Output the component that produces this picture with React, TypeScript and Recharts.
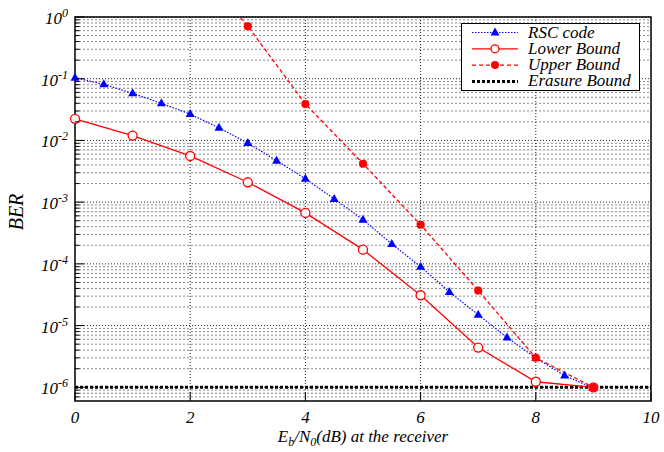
import React from "react";
import { LineChart, Line, XAxis, YAxis, CartesianGrid, ReferenceArea, Legend } from "recharts";

// Eb/N0 in dB
const rscSnr = [0, 0.5, 1, 1.5, 2, 2.5, 3, 3.5, 4, 4.5, 5, 5.5, 6, 6.5, 7, 7.5, 8, 8.5, 9];
const rscBer = [
  0.104, 0.081, 0.058, 0.04, 0.0267, 0.016, 0.0091, 0.0047, 0.0024, 0.00113, 5.2e-4, 2.1e-4, 9e-5,
  3.5e-5, 1.5e-5, 6.4e-6, 3.0e-6, 1.55e-6, 9.7e-7,
];

const lowerSnr = [0, 1, 2, 3, 4, 5, 6, 7, 8, 9];
const lowerBer = [0.0224, 0.012, 0.0056, 0.0021, 6.7e-4, 1.7e-4, 3.1e-5, 4.4e-6, 1.23e-6, 1.0e-6];

const upperSnr = [2, 3, 4, 5, 6, 7, 8, 9];
const upperBer = [9, 0.71, 0.039, 0.0042, 4.3e-4, 3.7e-5, 3.0e-6, 1.0e-6];

const erasureSnr = [0, 10];
const erasureBer = [1e-6, 1e-6];

const xTicks = [0, 2, 4, 6, 8, 10];
const xGrid = [2, 4, 6, 8];
const yMajor = [1e-6, 1e-5, 1e-4, 1e-3, 1e-2, 1e-1, 1];
const decades = [1e-7, 1e-6, 1e-5, 1e-4, 1e-3, 1e-2, 1e-1];
const mantissas = [2, 3, 4, 5, 6, 7, 8, 9];
const Y_MIN = 6e-7;
const Y_MAX = 1;

const yMinor = decades
  .flatMap((d) => mantissas.map((m) => m * d))
  .filter((v) => v > Y_MIN * 1.0001 && v < Y_MAX);
const yAll = [...yMajor, ...yMinor];

const toPoints = (xs: number[], ys: number[]) => xs.map((x, i) => ({ snr: x, ber: ys[i] }));

const SERIF: React.CSSProperties = {
  fontFamily: "'Liberation Serif', 'Times New Roman', Times, 'DejaVu Serif', serif",
  fontStyle: "italic",
};
const BLUE = "#0000ff";
const RED = "#ff0000";

function isMajor(v: number) {
  return yMajor.some((m) => Math.abs(m - v) / m < 1e-6);
}

function LeftTick(props: any) {
  const { x, y, payload } = props;
  const v = payload.value;
  const major = isMajor(v);
  const exp = Math.round(Math.log10(v));
  return (
    <g>
      <line x1={x} x2={x + (major ? 9 : 4.5)} y1={y} y2={y} stroke="#000" />
      {major && (
        <text x={x - 7} y={y + 7} textAnchor="end" style={{ ...SERIF, fontSize: 17 }} fill="#000">
          10
          <tspan dy={-7} style={{ fontSize: 12 }}>
            {exp === 0 ? "0" : `-${Math.abs(exp)}`}
          </tspan>
        </text>
      )}
    </g>
  );
}

function RightTick(props: any) {
  const { x, y, payload } = props;
  const major = isMajor(payload.value);
  return <line x1={x} x2={x - (major ? 9 : 4.5)} y1={y} y2={y} stroke="#000" />;
}

function BottomTick(props: any) {
  const { x, y, payload } = props;
  return (
    <g>
      <line x1={x} x2={x} y1={y} y2={y - 9} stroke="#000" />
      <text x={x} y={y + 22} textAnchor="middle" style={{ ...SERIF, fontSize: 17 }} fill="#000">
        {payload.value}
      </text>
    </g>
  );
}

function TopTick(props: any) {
  const { x, y } = props;
  return <line x1={x} x2={x} y1={y} y2={y + 9} stroke="#000" />;
}

function triangleDot(p: any) {
  const { cx, cy, index } = p;
  if (cx == null || cy == null) return <g key={`t-${index}`} />;
  return (
    <path
      key={`t-${index}`}
      d={`M${cx},${cy - 5} L${cx + 4.5},${cy + 3} L${cx - 4.5},${cy + 3} Z`}
      fill={BLUE}
    />
  );
}

function LegendBox() {
  const rows = [
    { name: "RSC code", color: BLUE, dash: "1.5 1.5", width: 1.2, marker: "tri" },
    { name: "Lower Bound", color: RED, dash: undefined, width: 1.3, marker: "open" },
    { name: "Upper Bound", color: RED, dash: "4 3", width: 1.3, marker: "filled" },
    { name: "Erasure Bound", color: "#000", dash: "3 2", width: 3, marker: "none" },
  ];
  return (
    <svg width={179} height={68} style={{ display: "block" }}>
      <rect x={0.5} y={0.5} width={178} height={67} fill="#fff" stroke="#000" />
      {rows.map((r, i) => {
        const cy = 9.5 + i * 16.3;
        return (
          <g key={r.name}>
            <line x1={11} x2={57} y1={cy} y2={cy} stroke={r.color} strokeWidth={r.width} strokeDasharray={r.dash} />
            {r.marker === "tri" && (
              <path d={`M34,${cy - 5} L38.5,${cy + 3} L29.5,${cy + 3} Z`} fill={BLUE} />
            )}
            {r.marker === "open" && <circle cx={34} cy={cy} r={4} fill="#fff" stroke={RED} strokeWidth={1.3} />}
            {r.marker === "filled" && <circle cx={34} cy={cy} r={4} fill={RED} />}
            <text x={67} y={cy + 5} style={{ ...SERIF, fontSize: 17 }} fill="#000">
              {r.name}
            </text>
          </g>
        );
      })}
    </svg>
  );
}

export default function App() {
  return (
    <div style={{ position: "absolute", left: 0, top: 0, width: 664, height: 452, background: "#fff" }}>
      <LineChart width={664} height={452} margin={{ top: 17, right: 13, bottom: 21, left: 15 }}>
        <CartesianGrid
          horizontalValues={yMinor}
          vertical={false}
          stroke="#8a8a8a"
          strokeDasharray="2 2"
        />
        <CartesianGrid
          horizontalValues={yMajor}
          verticalValues={xGrid}
          stroke="#222"
          strokeDasharray="1 2"
        />
        <XAxis
          dataKey="snr"
          type="number"
          domain={[0, 10]}
          ticks={xTicks}
          interval={0}
          height={30}
          tickSize={0}
          tickMargin={0}
          axisLine={false}
          tickLine={false}
          tick={<BottomTick />}
          label={() => (
            <text x={363} y={442} textAnchor="middle" style={{ ...SERIF, fontSize: 17 }} fill="#000">
              E<tspan dy={4} style={{ fontSize: 12 }}>b</tspan>
              <tspan dy={-4}>/N</tspan>
              <tspan dy={4} style={{ fontSize: 12 }}>0</tspan>
              <tspan dy={-4}>(dB) at the receiver</tspan>
            </text>
          )}
        />
        <XAxis
          xAxisId="t"
          orientation="top"
          dataKey="snr"
          type="number"
          domain={[0, 10]}
          ticks={xTicks}
          interval={0}
          height={0}
          tickSize={0}
          tickMargin={0}
          axisLine={false}
          tickLine={false}
          tick={<TopTick />}
        />
        <YAxis
          scale="log"
          type="number"
          domain={[Y_MIN, Y_MAX]}
          allowDataOverflow
          ticks={yAll}
          interval={0}
          width={60}
          tickSize={0}
          tickMargin={0}
          axisLine={false}
          tickLine={false}
          tick={<LeftTick />}
          label={() => (
            <text
              x={22.5}
              y={212}
              textAnchor="middle"
              transform="rotate(-90, 22.5, 212)"
              style={{ ...SERIF, fontSize: 20 }}
              fill="#000"
            >
              BER
            </text>
          )}
        />
        <YAxis
          yAxisId="r"
          orientation="right"
          scale="log"
          type="number"
          domain={[Y_MIN, Y_MAX]}
          allowDataOverflow
          ticks={yAll}
          interval={0}
          width={0}
          tickSize={0}
          tickMargin={0}
          axisLine={false}
          tickLine={false}
          tick={<RightTick />}
        />
        <Line
          data={toPoints(erasureSnr, erasureBer)}
          dataKey="ber"
          name="Erasure Bound"
          stroke="#000"
          strokeWidth={3}
          strokeDasharray="3 2"
          dot={false}
          isAnimationActive={false}
        />
        <Line
          data={toPoints(rscSnr, rscBer)}
          dataKey="ber"
          name="RSC code"
          stroke={BLUE}
          strokeWidth={1.2}
          strokeDasharray="1.5 1.5"
          dot={triangleDot}
          isAnimationActive={false}
        />
        <Line
          data={toPoints(lowerSnr, lowerBer)}
          dataKey="ber"
          name="Lower Bound"
          stroke={RED}
          strokeWidth={1.3}
          dot={{ r: 4.5, fill: "#fff", stroke: RED, strokeWidth: 1.3 }}
          isAnimationActive={false}
        />
        <Line
          data={toPoints(upperSnr, upperBer)}
          dataKey="ber"
          name="Upper Bound"
          stroke={RED}
          strokeWidth={1.3}
          strokeDasharray="4 2.5"
          dot={{ r: 4, fill: RED, stroke: RED, strokeWidth: 0.5 }}
          isAnimationActive={false}
        />
        <ReferenceArea x1={0} x2={10} y1={Y_MIN} y2={Y_MAX} fill="none" stroke="#000" strokeWidth={1.5} />
        <Legend
          layout="vertical"
          align="center"
          verticalAlign="middle"
          wrapperStyle={{ position: "absolute", left: 461, top: 23, width: 179, height: 68 }}
          content={() => <LegendBox />}
        />
      </LineChart>
    </div>
  );
}
